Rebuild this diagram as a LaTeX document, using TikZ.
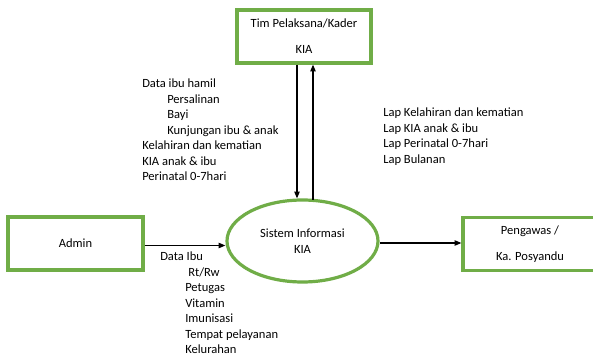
\documentclass[tikz,border=0pt]{standalone}
\usepackage{fontspec}
\setmainfont{Carlito}
\usetikzlibrary{arrows.meta,shapes.geometric}
\definecolor{boxgreen}{RGB}{112,173,71}

\begin{document}
\begin{tikzpicture}[x=0.75pt,y=-0.75pt,
		font=\fontsize{9.4}{11.6}\selectfont,
		entity/.style={draw=boxgreen,line width=2.4pt,fill=white,align=center,minimum width=100.5pt,minimum height=39.75pt},
		process/.style={draw=boxgreen,line width=2.4pt,ellipse,align=center,minimum width=113.25pt,minimum height=61.5pt},
		flow/.style={-{Triangle[length=5pt,width=4pt]},line width=0.8pt},
		datalist/.style={anchor=north west,align=left,inner sep=0pt}]
	\clip (0,0) rectangle (593,356);
	\fill[white] (0,0) rectangle (593,356);
	% entities and process
	\node[entity] (tim) at (304,36.5) {Tim Pelaksana/Kader\\[8pt]KIA};
	\node[entity,minimum width=101.25pt] (admin) at (75.5,243.5) {Admin};
	\node[entity] (peng) at (530,244) {Pengawas /\\[8pt]Ka. Posyandu};
	\node[process] (sis) at (302.5,241) {Sistem Informasi\\KIA};
	% data flows
	\draw[flow] ([xshift=-5.25pt]tim.south) -- ([xshift=-5.25pt]tim.south |- sis.north);
	\draw[flow] ([xshift=6.75pt,yshift=-1pt]tim.south |- sis.north) -- ([xshift=6.75pt]tim.south);
	\draw[flow] ([yshift=-1.5pt]admin.east) -- ([yshift=-1.5pt]admin.east -| sis.west);
	\draw[flow] ([yshift=-1.5pt]sis.east) -- ([yshift=-1.5pt]sis.east -| peng.west);
	% flow labels
	\node[datalist] (datatim) at (142,79) {Data ibu hamil\\
		\hspace*{18.75pt}Persalinan\\
		\hspace*{18.75pt}Bayi\\
		\hspace*{18.75pt}Kunjungan ibu \& anak\\
		Kelahiran dan kematian\\
		KIA anak \& ibu\\
		Perinatal 0-7hari};
	\node[datalist] (datalap) at (383,108) {Lap Kelahiran dan kematian\\
		Lap KIA anak \& ibu\\
		Lap Perinatal 0-7hari\\
		Lap Bulanan};
	\node[datalist] (dataibu) at (160,252) {Data Ibu\\
		\hspace*{21pt}Rt/Rw\\
		\hspace*{18.75pt}Petugas\\
		\hspace*{18.75pt}Vitamin\\
		\hspace*{18.75pt}Imunisasi\\
		\hspace*{18.75pt}Tempat pelayanan\\
		\hspace*{18.75pt}Kelurahan};
\end{tikzpicture}
\end{document}
